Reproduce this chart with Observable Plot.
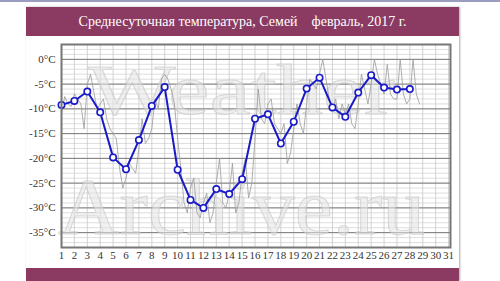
<!DOCTYPE html>
<html><head><meta charset="utf-8">
<script src="https://cdn.jsdelivr.net/npm/d3@7"></script>
<script src="https://cdn.jsdelivr.net/npm/@observablehq/plot@0.6"></script>
<style>
body{margin:0;background:#fff;width:500px;height:281px;overflow:hidden;position:relative;font-family:"Liberation Serif",serif}
#topline{position:absolute;left:0;top:0;width:500px;height:2px;background:#9a9cc0}
#card{position:absolute;left:26px;top:7px;width:433px;height:274px;background:#fff;box-shadow:1px 0 2px #aaa}
#title{height:29px;background:#8b3a62;color:#fff;font-size:14px;text-align:center;line-height:29px;white-space:pre;font-family:"Liberation Serif",serif}
#chart{position:absolute;left:0;top:29px}
#chart svg text{font-family:"Liberation Serif",serif !important}
#bottom{position:absolute;left:0;top:261px;width:433px;height:13px;background:#8b3a62}
</style>
</head><body>
<div id="topline"></div>
<div id="card">
  <div id="title"></div>
  <div id="chart"></div>
  <div id="bottom"></div>
</div>
<script>
const titleText = "Среднесуточная температура, Семей    февраль, 2017 г.";
const watermarkTop = "Weather";
const watermarkBottom = "Archive.ru";

// Days of February 2017 and daily mean temperature (°C)
const days = [1,2,3,4,5,6,7,8,9,10,11,12,13,14,15,16,17,18,19,20,21,22,23,24,25,26,27,28];
const dailyMean = [-9.2,-8.4,-6.5,-10.7,-19.8,-22.2,-16.3,-9.4,-5.6,-22.3,-28.4,-30.0,-26.2,-27.2,-24.2,-12.0,-11.1,-17.0,-12.6,-5.9,-3.7,-9.7,-11.6,-6.7,-3.2,-5.7,-6.1,-6.0];

// Individual readings per day (00, 06, 12, 18 h)
const readingHours = [0, 6, 12, 18];
const readings = [
  [-11,-7.5,-9,-9.5],
  [-7,-8,-9,-14],
  [-5,-3,-6.5,-10],
  [-9,-8,-12,-14],
  [-15,-16,-22,-26],
  [-24,-21,-22,-23],
  [-18,-12,-17,-16],
  [-14,-8,-10,-4],
  [-3,-4,-6,-9],
  [-16,-22,-29,-31],
  [-26,-24,-31,-32],
  [-29,-27,-33,-31],
  [-25,-20,-29,-30],
  [-27,-21,-31,-29],
  [-23,-20,-28,-25],
  [-16,-6,-12,-13],
  [-9,-8,-13,-14],
  [-15,-13,-21,-19],
  [-14,-9,-13,-15],
  [-9,-4,-5,-6],
  [-3,0,-4,-8],
  [-10,-8,-12,-9],
  [-11,-9,-13,-14],
  [-9,-3,-6,-9],
  [-5,0,-3,-5],
  [-7,-1,-7,-8],
  [-8,0,-7,-9],
  [-8,0,-7,-9]
];

const yTicks = [0,-5,-10,-15,-20,-25,-30,-35];
const xTicks = d3.range(1, 32);

document.getElementById("title").textContent = titleText;

const meanData = days.map((d, i) => ({day: d, t: dailyMean[i]}));
const readingData = [];
days.forEach((d, i) => readings[i].forEach((t, j) => readingData.push({day: d + readingHours[j] / 24, t})));

const watermark = (index, scales, values, dims) => {
  const g = d3.create("svg:g")
    .attr("fill", "#e4e4e4").attr("fill-opacity", 0.55)
    .attr("stroke", "#c4c4c4").attr("stroke-opacity", 0.6).attr("stroke-width", 1)
    .attr("text-anchor", "start")
    .attr("font-family", "Liberation Serif, serif");
  g.append("text").attr("x", 62).attr("y", 78).attr("font-size", 71).attr("text-anchor", "start")
    .attr("textLength", 307).attr("lengthAdjust", "spacingAndGlyphs").text(watermarkTop);
  g.append("text").attr("x", 32).attr("y", 198).attr("font-size", 80).attr("text-anchor", "start")
    .attr("textLength", 367).attr("lengthAdjust", "spacingAndGlyphs").text(watermarkBottom);
  return g.node();
};

const chart = Plot.plot({
  width: 433,
  height: 232,
  marginLeft: 35,
  marginRight: 9,
  marginTop: 8,
  marginBottom: 21,
  style: {fontFamily: "Liberation Serif, serif", fontSize: "11px", background: "transparent"},
  x: {domain: [1, 31.15]},
  y: {domain: [-38, 3]},
  marks: [
    Plot.gridY(d3.range(-38, 4, 1), {stroke: "#c8c8c8", strokeOpacity: 1, strokeWidth: 0.6}),
    Plot.gridX(xTicks, {stroke: "#c8c8c8", strokeOpacity: 1, strokeWidth: 0.8}),
    Plot.gridY(yTicks, {stroke: "#7a7a7a", strokeOpacity: 1, strokeWidth: 1}),
    watermark,
    Plot.line(readingData, {x: "day", y: "t", stroke: "#9a9a9a", strokeWidth: 0.8}),
    Plot.line(meanData, {x: "day", y: "t", stroke: "#1a1ac8", strokeWidth: 2}),
    Plot.dot(meanData, {x: "day", y: "t", r: 3.2, fill: "#fff", stroke: "#1a1ac8", strokeWidth: 1.6}),
    Plot.frame({stroke: "#777", strokeWidth: 2}),
    Plot.axisY(yTicks, {tickSize: 0, tickPadding: 6, tickFormat: d => `${d}°C`, fill: "#333", label: null}),
    Plot.axisX(xTicks, {tickSize: 0, tickPadding: 4, fill: "#333", label: null})
  ]
});
document.getElementById("chart").appendChild(chart);
</script>
</body></html>
